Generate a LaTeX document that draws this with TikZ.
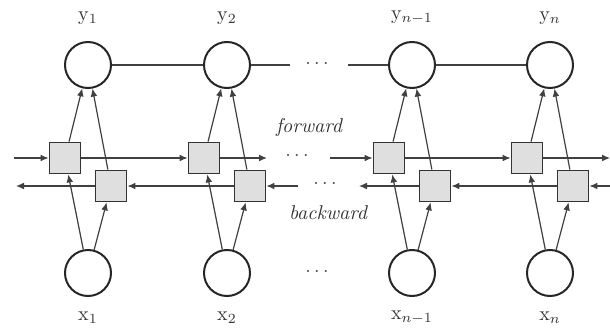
\documentclass[tikz,border=0pt]{standalone}
\usetikzlibrary{arrows.meta}
\begin{document}
\begin{tikzpicture}[x=0.5pt,y=-0.5pt,
  unit/.style={circle,draw=black!85,line width=1pt,minimum size=23pt,inner sep=0pt},
  cell/.style={rectangle,draw=black!80,line width=0.9pt,fill=gray!25,minimum size=15.5pt,inner sep=0pt},
  conn/.style={draw=black!75,line width=0.6pt,-{Latex[length=4pt,width=3.4pt]}},
  plain/.style={draw=black!75,line width=0.6pt},
  lbl/.style={inner sep=0pt,font=\normalsize,text=black!80},
  dots/.style={inner sep=0pt,text=black!70}]
\useasboundingbox (0,0) rectangle (610,331);
% output units
\node[unit] (y1) at (88,65) {};
\node[unit] (y2) at (227,65) {};
\node[unit] (y3) at (412,65) {};
\node[unit] (y4) at (550,65) {};
% input units
\node[unit] (x1) at (88,273) {};
\node[unit] (x2) at (227,273) {};
\node[unit] (x3) at (412,273) {};
\node[unit] (x4) at (550,273) {};
% forward cells
\node[cell] (f1) at (65,158) {};
\node[cell] (f2) at (204,158) {};
\node[cell] (f3) at (389,158) {};
\node[cell] (f4) at (527,158) {};
% backward cells
\node[cell] (b1) at (111,186) {};
\node[cell] (b2) at (250,186) {};
\node[cell] (b3) at (435,186) {};
\node[cell] (b4) at (573,186) {};
% labels
\node[lbl] (ly1) at (88,18) {y$_1$};
\node[lbl] (ly2) at (227,18) {y$_2$};
\node[lbl] (ly3) at (412,18) {y$_{n-1}$};
\node[lbl] (ly4) at (550,18) {y$_n$};
\node[lbl] (lx1) at (88,318) {x$_1$};
\node[lbl] (lx2) at (227,318) {x$_2$};
\node[lbl] (lx3) at (412,318) {x$_{n-1}$};
\node[lbl] (lx4) at (550,318) {x$_n$};
\node[lbl] (lf) at (309,128) {\itshape forward};
\node[lbl] (lb) at (328,213) {\itshape backward};
% dots
\node[dots] (dt) at (317,64) {$\cdots$};
\node[dots] (df) at (297,156) {$\cdots$};
\node[dots] (db) at (325,184) {$\cdots$};
\node[dots] (dx) at (317,272) {$\cdots$};
% free ends
\coordinate (fl) at (14,158);
\coordinate (fa) at (267,158);
\coordinate (fb) at (330,158);
\coordinate (fr) at (610,158);
\coordinate (br) at (610,186);
\coordinate (ba) at (359,186);
\coordinate (bb) at (298,186);
\coordinate (bl) at (16,186);
\coordinate (ta) at (290,65);
\coordinate (tb) at (348,65);
% top chain
\draw[plain] (y1) -- (y2);
\draw[plain] (y2) -- (ta);
\draw[plain] (tb) -- (y3);
\draw[plain] (y3) -- (y4);
% forward chain
\draw[conn] (fl) -- (f1);
\draw[conn] (f1) -- (f2);
\draw[conn] (f2) -- (fa);
\draw[conn] (fb) -- (f3);
\draw[conn] (f3) -- (f4);
\draw[conn] (f4) -- (fr);
% backward chain
\draw[conn] (br) -- (b4);
\draw[conn] (b4) -- (b3);
\draw[conn] (b3) -- (ba);
\draw[conn] (bb) -- (b2);
\draw[conn] (b2) -- (b1);
\draw[conn] (b1) -- (bl);
% vertical connections
\foreach \i in {1,...,4}{
  \draw[conn] (x\i) -- (f\i);
  \draw[conn] (x\i) -- (b\i);
  \draw[conn] (f\i) -- (y\i);
  \draw[conn] (b\i) -- (y\i);
}
\end{tikzpicture}
\end{document}
